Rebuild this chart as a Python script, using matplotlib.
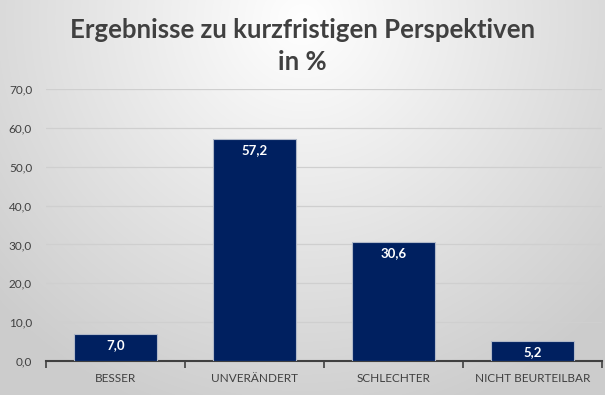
import numpy as np
import matplotlib.pyplot as plt

categories = ["BESSER", "UNVERÄNDERT", "SCHLECHTER", "NICHT BEURTEILBAR"]
values = [7.0, 57.2, 30.6, 5.2]
yticks = [0, 10, 20, 30, 40, 50, 60, 70]

plt.rcParams['font.family'] = ['Lato', 'DejaVu Sans']

fig = plt.figure(figsize=(6.05, 3.95), dpi=100)

# background radial gradient
bg = fig.add_axes([0, 0, 1, 1], zorder=-10)
h, w = 395, 605
yy, xx = np.mgrid[0:h, 0:w]
r = np.sqrt(((xx - 302) / 420.0) ** 2 + ((yy - 20) / 420.0) ** 2)
r = np.clip(r, 0, 1)
shade = 1.0 - 0.2 * r
img = np.dstack([shade, shade, shade])
bg.imshow(img, aspect='auto', extent=[0, 1, 0, 1], origin='upper')
bg.axis('off')

ax = fig.add_axes([46 / 605, 1 - 361 / 395, 556 / 605, 272 / 395])
ax.patch.set_alpha(0)

x = np.arange(len(categories))
bars = ax.bar(x, values, width=0.6, color='#002060', edgecolor='#b0b8c8', linewidth=0.8, zorder=3)

for xi, v in zip(x, values):
    ax.text(xi, v - 1.3, f"{v:.1f}".replace(".", ","), ha='center', va='top',
            color='white', fontsize=9.5, fontweight='bold', zorder=4)

ax.set_xlim(-0.5, 3.5)
ax.set_ylim(0, 70)
ax.set_yticks(yticks)
ax.set_yticklabels([f"{t:.1f}".replace(".", ",") for t in yticks], fontsize=8.5, color='#404040')
ax.yaxis.grid(True, color='#cfcfcf', linewidth=0.9, zorder=0)
ax.tick_params(axis='y', length=0, pad=10)

ax.set_xticks(x)
ax.set_xticklabels(categories, fontsize=8.5, color='#404040')
ax.set_xticks(np.arange(-0.5, 4.0, 1.0), minor=True)
ax.tick_params(axis='x', which='major', length=0, pad=9)
ax.tick_params(axis='x', which='minor', length=5, width=1.2, color='#404040', direction='out')

for s in ['top', 'right', 'left']:
    ax.spines[s].set_visible(False)
ax.spines['bottom'].set_color('#404040')
ax.spines['bottom'].set_linewidth(1.5)

fig.text(0.5, 1 - 30 / 395, "Ergebnisse zu kurzfristigen Perspektiven", ha='center', va='center',
         fontsize=18.5, fontweight='bold', color='#404040')
fig.text(0.5, 1 - 62 / 395, "in %", ha='center', va='center',
         fontsize=18.5, fontweight='bold', color='#404040')

fig.savefig("out.png", dpi=100)
